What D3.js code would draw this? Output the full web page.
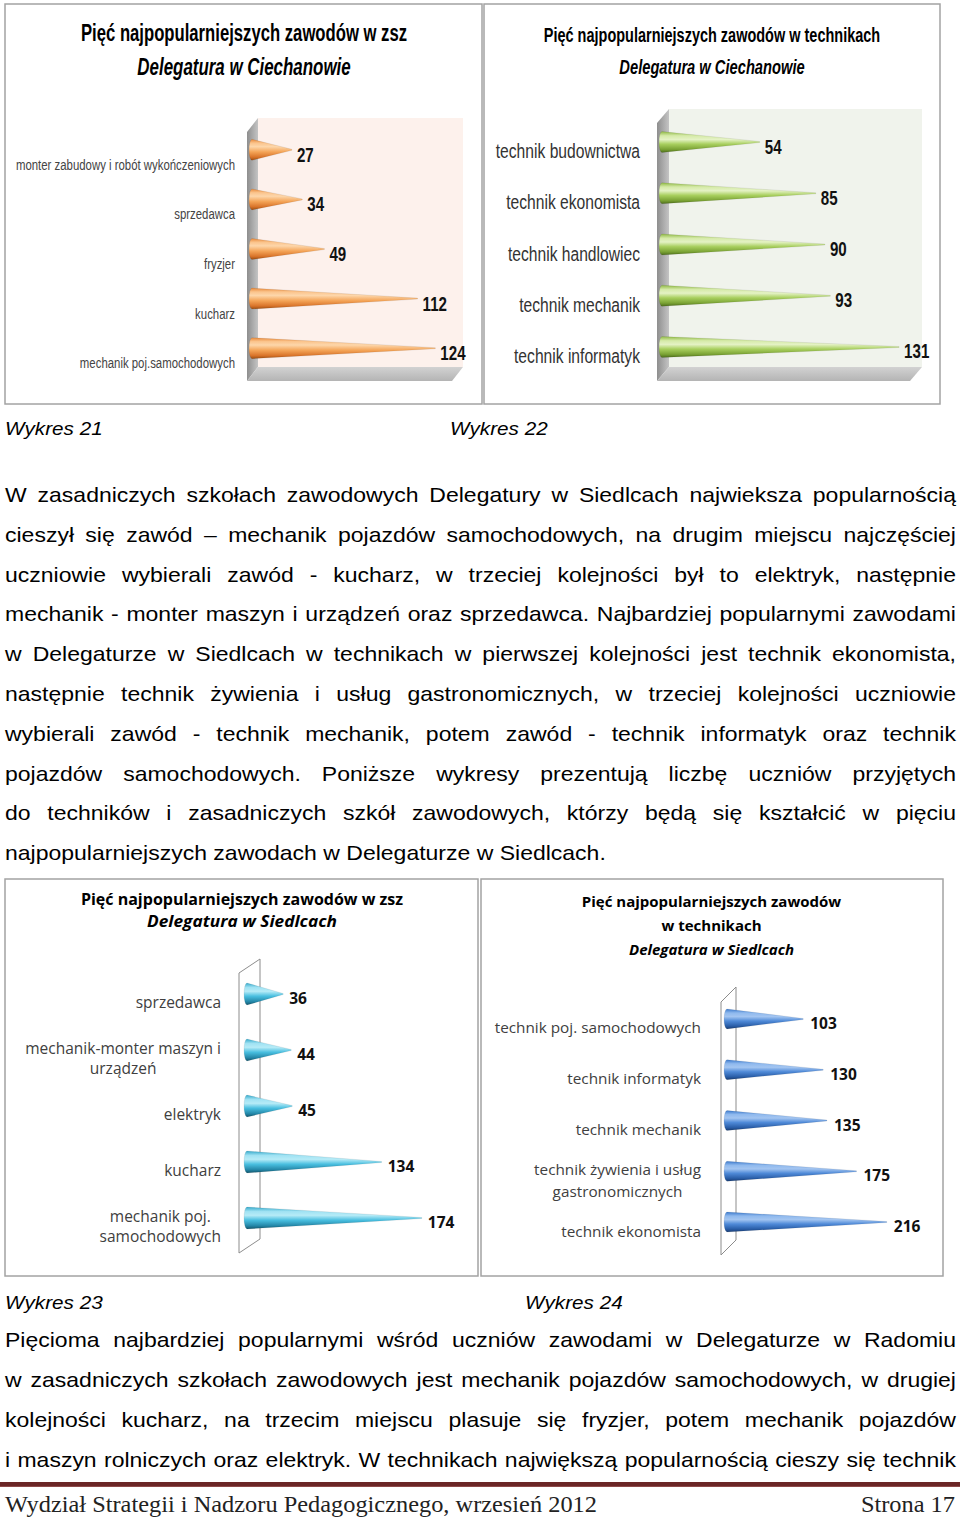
<!DOCTYPE html>
<html><head><meta charset="utf-8">
<script src="https://cdn.jsdelivr.net/npm/d3@7"></script>
<style>body{margin:0;background:#fff}svg{display:block}</style>
</head><body>
<svg id="page" width="960" height="1523"></svg>
<script>
// ---------------- DATA ----------------
const ciechZszCategories = ["monter zabudowy i robót wykończeniowych", "sprzedawca", "fryzjer", "kucharz", "mechanik poj.samochodowych"];
const ciechZszValues = [27, 34, 49, 112, 124];
const ciechTechCategories = ["technik budownictwa", "technik ekonomista", "technik handlowiec", "technik mechanik", "technik informatyk"];
const ciechTechValues = [54, 85, 90, 93, 131];
const siedlZszCategories = ["sprzedawca", "mechanik-monter maszyn i\nurządzeń", "elektryk", "kucharz", "mechanik poj.\nsamochodowych"];
const siedlZszValues = [36, 44, 45, 134, 174];
const siedlTechCategories = ["technik poj. samochodowych", "technik informatyk", "technik mechanik", "technik żywienia i usług\ngastronomicznych", "technik ekonomista"];
const siedlTechValues = [103, 130, 135, 175, 216];

const title21 = ["Pięć najpopularniejszych zawodów w zsz", "Delegatura w Ciechanowie"];
const title22 = ["Pięć najpopularniejszych zawodów w technikach", "Delegatura w Ciechanowie"];
const title23 = ["Pięć najpopularniejszych zawodów w zsz", "Delegatura w Siedlcach"];
const title24 = ["Pięć najpopularniejszych zawodów", "w  technikach", "Delegatura  w Siedlcach"];
const captions = ["Wykres 21", "Wykres 22", "Wykres 23", "Wykres 24"];

const paragraph1 = [
  "W zasadniczych szkołach zawodowych Delegatury w Siedlcach najwieksza popularnością",
  "cieszył się zawód – mechanik pojazdów samochodowych, na drugim miejscu najczęściej",
  "uczniowie wybierali zawód - kucharz, w trzeciej kolejności był to elektryk, następnie",
  "mechanik - monter maszyn i urządzeń oraz sprzedawca. Najbardziej popularnymi zawodami",
  "w Delegaturze w Siedlcach w technikach w pierwszej kolejności jest technik ekonomista,",
  "następnie technik żywienia i usług gastronomicznych, w trzeciej kolejności uczniowie",
  "wybierali zawód - technik mechanik, potem zawód - technik informatyk oraz technik",
  "pojazdów samochodowych. Poniższe wykresy prezentują liczbę uczniów przyjętych",
  "do techników i zasadniczych szkół zawodowych, którzy będą się kształcić w pięciu",
  "najpopularniejszych zawodach w Delegaturze w Siedlcach."
];
const paragraph2 = [
  "Pięcioma najbardziej popularnymi wśród uczniów zawodami w Delegaturze w Radomiu",
  "w zasadniczych szkołach zawodowych jest mechanik pojazdów samochodowych, w drugiej",
  "kolejności kucharz, na trzecim miejscu plasuje się fryzjer, potem mechanik pojazdów",
  "i maszyn rolniczych oraz elektryk. W technikach największą popularnością cieszy się technik"
];
const footerLeft = "Wydział Strategii i Nadzoru Pedagogicznego,  wrzesień 2012";
const footerRight = "Strona 17";

// ---------------- STYLE ----------------
const SANS = "'Liberation Sans', Arial, sans-serif";
const NARROW = "'Liberation Sans', Arial, sans-serif"; // squeezed horizontally via sx
const OPEN = "'Open Sans', 'Noto Sans', sans-serif";
const SERIF = "'Liberation Serif', 'DejaVu Serif', serif";

const svg = d3.select("#page");
const defs = svg.append("defs");

function makeGrad(id, stops, vertical = true) {
  const g = defs.append("linearGradient").attr("id", id)
    .attr("x1", 0).attr("y1", 0).attr("x2", vertical ? 0 : 1).attr("y2", vertical ? 1 : 0);
  g.selectAll("stop").data(stops).join("stop")
    .attr("offset", d => d[0]).attr("stop-color", d => d[1]);
}
makeGrad("gOrange", [[0, "#e8893a"], [0.18, "#fbc48c"], [0.35, "#fdd6aa"], [0.6, "#f4a457"], [0.85, "#d9742a"], [1, "#9c4d12"]]);
makeGrad("gGreen", [[0, "#8fb945"], [0.2, "#d5eaa8"], [0.38, "#e4f2c4"], [0.6, "#a8cf5e"], [0.85, "#7aa234"], [1, "#4e6e1c"]]);
makeGrad("gCyan", [[0, "#35a9cb"], [0.2, "#9fe2f3"], [0.38, "#b6ebf7"], [0.6, "#49bfe0"], [0.85, "#2487a8"], [1, "#14566c"]]);
makeGrad("gBlue", [[0, "#3b79cc"], [0.2, "#8fb9ee"], [0.38, "#a3c5f1"], [0.6, "#4f8ad8"], [0.85, "#2a5ea8"], [1, "#1a3d72"]]);
makeGrad("gSide", [[0, "#8e8e8e"], [1, "#c4c4c4"]], false);
makeGrad("gFloor", [[0, "#d2d2d2"], [1, "#b4b4b4"]]);

// text with horizontal squeeze around anchor
function sText(parent, x, y, str, o) {
  const g = parent.append("g").attr("transform", `translate(${x},${y}) scale(${o.sx || 1},1)`);
  const t = g.append("text")
    .attr("font-family", o.family).attr("font-size", o.size)
    .attr("font-weight", o.weight || "normal").attr("font-style", o.style || "normal")
    .attr("fill", o.fill || "#000").attr("text-anchor", o.anchor || "start")
    .text(str);
  return t;
}

function coneShape(x0, tip, cy, h, rx) {
  return `M${x0},${cy - h} L${tip},${cy - 0.5} L${tip},${cy + 0.5} L${x0},${cy + h} A${rx},${h} 0 0 1 ${x0},${cy - h} Z`;
}

function drawChart(cfg, cats, vals, titleLines) {
  const g = svg.append("g");
  g.append("rect").attr("x", cfg.box[0]).attr("y", cfg.box[1]).attr("width", cfg.box[2]).attr("height", cfg.box[3])
    .attr("fill", "#fff").attr("stroke", "#a3a3a3").attr("stroke-width", 1.5);
  titleLines.forEach((t, i) => {
    const last = i === titleLines.length - 1;
    sText(g, cfg.titleX, cfg.titleY[i], t, {
      family: cfg.titleFamily, size: cfg.titleSize, weight: "bold",
      style: last ? "italic" : "normal", anchor: "middle", sx: last ? cfg.subSx : cfg.titleSx
    });
  });
  const x = d3.scaleLinear().domain(cfg.domain).range(cfg.xRange);
  const y = d3.scaleBand().domain(cats).range(cfg.yRange);
  const cy = d => y(d) + y.bandwidth() / 2;

  if (cfg.wall === "box") {
    const w = cfg.walls, dx = w.dx, dy = w.dy;
    g.append("rect").attr("x", w.left).attr("y", w.top).attr("width", w.right - w.left).attr("height", w.bottom - w.top)
      .attr("fill", w.back);
    g.append("path").attr("d", `M${w.left + dx},${w.top + dy} L${w.left},${w.top} L${w.left},${w.bottom} L${w.left + dx},${w.bottom + dy} Z`)
      .attr("fill", "url(#gSide)");
    g.append("path").attr("d", `M${w.left + dx},${w.bottom + dy} L${w.left},${w.bottom} L${w.right},${w.bottom} L${w.right + dx},${w.bottom + dy} Z`)
      .attr("fill", "url(#gFloor)");
  } else {
    const w = cfg.walls;
    g.append("path").attr("d", `M${w.left},${w.topL} L${w.right},${w.topR} L${w.right},${w.botR} L${w.left},${w.botL} Z`)
      .attr("fill", "#fff").attr("stroke", "#8c8c8c").attr("stroke-width", 1);
  }

  g.selectAll("path.cone").data(vals).join("path").attr("class", "cone")
    .attr("d", (v, i) => coneShape(x(0), x(v), cy(cats[i]), cfg.coneH, 3))
    .attr("fill", `url(#${cfg.grad})`)
    .attr("stroke", "rgba(0,0,0,0.12)").attr("stroke-width", 0.6);

  vals.forEach((v, i) => {
    sText(g, x(v) + cfg.valDx, cy(cats[i]) + cfg.valDy, String(v), {
      family: cfg.valFamily, size: cfg.valSize, weight: "bold", sx: cfg.valSx, fill: "#111"
    });
  });

  cats.forEach(c => {
    const lines = c.split("\n");
    const base = cy(c) + cfg.labDy;
    if (lines.length === 1) {
      sText(g, cfg.labRight, base, c, { family: cfg.labFamily, size: cfg.labSize, sx: cfg.labSx, anchor: "end", fill: cfg.labFill });
    } else {
      const ts = lines.map((l, k) => sText(g, 0, base + (k - (lines.length - 1) / 2) * cfg.labLineH, l,
        { family: cfg.labFamily, size: cfg.labSize, sx: cfg.labSx, anchor: "middle", fill: cfg.labFill }));
      const maxW = d3.max(ts, t => t.node().getComputedTextLength()) * (cfg.labSx || 1);
      const cx = cfg.labRight - maxW / 2;
      ts.forEach((t, k) => {
        d3.select(t.node().parentNode).attr("transform",
          `translate(${cx},${base + (k - (lines.length - 1) / 2) * cfg.labLineH}) scale(${cfg.labSx || 1},1)`);
      });
    }
  });
}

// ---------------- CHARTS ----------------
drawChart({
  box: [5, 4, 477, 400], titleX: 244, titleY: [41, 75], titleFamily: NARROW, titleSize: 24, titleSx: 0.695, subSx: 0.705,
  domain: [0, 140], xRange: [252, 459], yRange: [125, 373], coneH: 10.5, grad: "gOrange",
  wall: "box", walls: { left: 258, top: 118, right: 463, bottom: 367, dx: -11, dy: 14, back: "#fdf1ec" },
  valDx: 5, valDy: 12, valFamily: NARROW, valSize: 21, valSx: 0.72,
  labRight: 235, labDy: 20, labFamily: NARROW, labSize: 15, labSx: 0.76, labFill: "#444"
}, ciechZszCategories, ciechZszValues, title21);

drawChart({
  box: [484, 4, 456, 400], titleX: 712, titleY: [42, 74], titleFamily: NARROW, titleSize: 21, titleSx: 0.69, subSx: 0.70,
  domain: [0, 140], xRange: [662, 915.4], yRange: [116.4, 372.6], coneH: 10.5, grad: "gGreen",
  wall: "box", walls: { left: 669, top: 109, right: 922, bottom: 367, dx: -12, dy: 14, back: "#f0f3ec" },
  valDx: 5, valDy: 11.5, valFamily: NARROW, valSize: 21, valSx: 0.72,
  labRight: 640, labDy: 16, labFamily: NARROW, labSize: 21, labSx: 0.745, labFill: "#333"
}, ciechTechCategories, ciechTechValues, title22);

drawChart({
  box: [5, 879, 473, 397], titleX: 242, titleY: [905, 927], titleFamily: OPEN, titleSize: 16, titleSx: 1.0, subSx: 1.08,
  domain: [0, 200], xRange: [247, 448], yRange: [966, 1246], coneH: 11, grad: "gCyan",
  wall: "plane", walls: { left: 239, right: 260, topL: 973, topR: 959, botL: 1253, botR: 1239 },
  valDx: 6, valDy: 9.5, valFamily: OPEN, valSize: 15.5, valSx: 1,
  labRight: 221, labDy: 13.5, labLineH: 20, labFamily: OPEN, labSize: 15.5, labSx: 1, labFill: "#404040"
}, siedlZszCategories, siedlZszValues, title23);

drawChart({
  box: [481, 879, 462, 397], titleX: 711.5, titleY: [907, 931, 955], titleFamily: OPEN, titleSize: 15, titleSx: 1, subSx: 1,
  domain: [0, 250], xRange: [727, 912], yRange: [993.6, 1247.4], coneH: 10, grad: "gBlue",
  wall: "plane", walls: { left: 721, right: 736, topL: 1002, topR: 987, botL: 1255, botR: 1240 },
  valDx: 7, valDy: 10, valFamily: OPEN, valSize: 15.5, valSx: 1,
  labRight: 701, labDy: 14.5, labLineH: 22, labFamily: OPEN, labSize: 15.3, labSx: 1, labFill: "#404040"
}, siedlTechCategories, siedlTechValues, title24);

// ---------------- TEXT ----------------
const TXT_SIZE = 20, TXT_SX = 1.15, LEFT = 5, RIGHT = 956;
function textLine(str, y, justify) {
  const g = svg.append("g").attr("transform", `translate(${LEFT},${y}) scale(${TXT_SX},1)`);
  const words = str.split(" ");
  const nodes = words.map(w => g.append("text").attr("font-family", SANS).attr("font-size", TXT_SIZE).attr("fill", "#000").text(w));
  const widths = nodes.map(n => n.node().getComputedTextLength());
  const gap = justify && words.length > 1 ? ((RIGHT - LEFT) / TXT_SX - d3.sum(widths)) / (words.length - 1) : TXT_SIZE * 0.278;
  let cx = 0;
  nodes.forEach((n, i) => { n.attr("x", cx); cx += widths[i] + gap; });
}
paragraph1.forEach((l, i) => textLine(l, 502 + i * 39.8, i < paragraph1.length - 1));
paragraph2.forEach((l, i) => textLine(l, 1347 + i * 39.9, true));

const capPos = [[5, 435], [450, 435], [5, 1309], [525, 1309]];
captions.forEach((c, i) => sText(svg, capPos[i][0], capPos[i][1], c, { family: SANS, size: 18, style: "italic", sx: 1.15 }));

// footer
svg.append("rect").attr("x", 0).attr("y", 1482).attr("width", 960).attr("height", 5).attr("fill", "#6b2626");
svg.append("rect").attr("x", 0).attr("y", 1486).attr("width", 960).attr("height", 1).attr("fill", "#8f4a4a");
sText(svg, 5, 1512, footerLeft, { family: SERIF, size: 23, sx: 1.06, fill: "#222" });
sText(svg, 955, 1512, footerRight, { family: SERIF, size: 23, sx: 1.06, anchor: "end", fill: "#222" });
</script>
</body></html>
